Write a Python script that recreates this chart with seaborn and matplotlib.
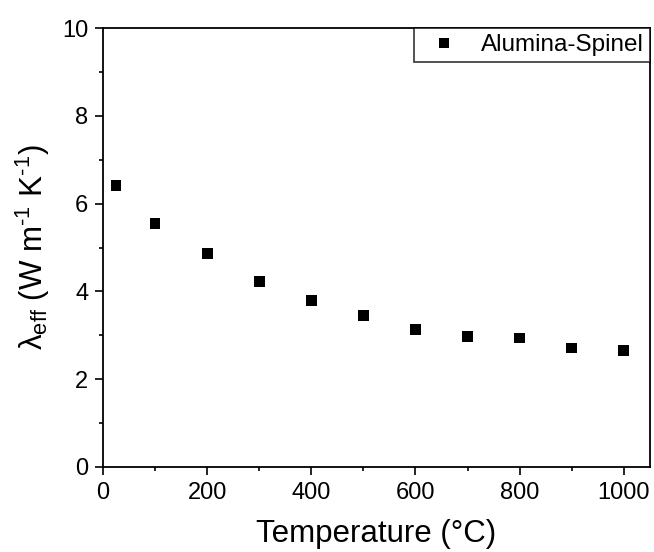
import matplotlib
matplotlib.use("Agg")
import matplotlib.pyplot as plt
import seaborn as sns
import pandas as pd
from matplotlib.ticker import MultipleLocator

temperature = [25, 100, 200, 300, 400, 500, 600, 700, 800, 900, 1000]
conductivity = [6.42, 5.55, 4.86, 4.22, 3.79, 3.46, 3.13, 2.97, 2.94, 2.71, 2.66]
series_name = "Alumina-Spinel"

df = pd.DataFrame({"T": temperature, "k": conductivity, "s": series_name})

sns.set_theme(style="ticks")
plt.rcParams['font.family'] = ['Liberation Sans', 'DejaVu Sans']
plt.rcParams['mathtext.fontset'] = 'custom'
plt.rcParams['mathtext.rm'] = 'Liberation Sans'
plt.rcParams['mathtext.it'] = 'Liberation Sans:italic'
plt.rcParams['mathtext.default'] = 'regular'
plt.rcParams['text.color'] = 'black'
plt.rcParams['axes.labelcolor'] = 'black'

fig = plt.figure(figsize=(6.54, 5.52), dpi=100)
ax = fig.add_axes([0.1575, 0.154, 0.836, 0.795])

sns.scatterplot(data=df, x="T", y="k", hue="s", palette=["black"], marker="s",
                s=60, edgecolor="black", linewidth=0, ax=ax)

ax.set_xlim(0, 1050)
ax.set_ylim(0, 10)
ax.xaxis.set_major_locator(MultipleLocator(200))
ax.xaxis.set_minor_locator(MultipleLocator(100))
ax.yaxis.set_major_locator(MultipleLocator(2))
ax.yaxis.set_minor_locator(MultipleLocator(1))
ax.tick_params(which="major", direction="out", length=5.5, width=1.2, labelsize=17, colors="black")
ax.tick_params(which="minor", direction="out", length=3, width=1.2, colors="black")
ax.tick_params(axis="x", which="major", pad=5)
ax.tick_params(axis="y", which="major", pad=5)
for sp in ax.spines.values():
    sp.set_linewidth(1.3)
    sp.set_color("black")
    sp.set_visible(True)

ax.set_xlabel("Temperature (°C)", fontsize=22.5, labelpad=11, color="black")
ax.set_ylabel("λ$_{eff}$ (W m$^{\\text{-1}}$ K$^{\\text{-1}}$)", fontsize=22.5, labelpad=7, color="black")

leg = ax.legend(loc="upper right", borderaxespad=0, fontsize=17.5, frameon=True,
                fancybox=False, edgecolor="black", handletextpad=0.5, borderpad=0.25,
                handlelength=2.0, markerscale=1.0)
leg.get_frame().set_linewidth(1.2)
for t in leg.get_texts():
    t.set_color("black")

fig.savefig("out.png", dpi=100)
